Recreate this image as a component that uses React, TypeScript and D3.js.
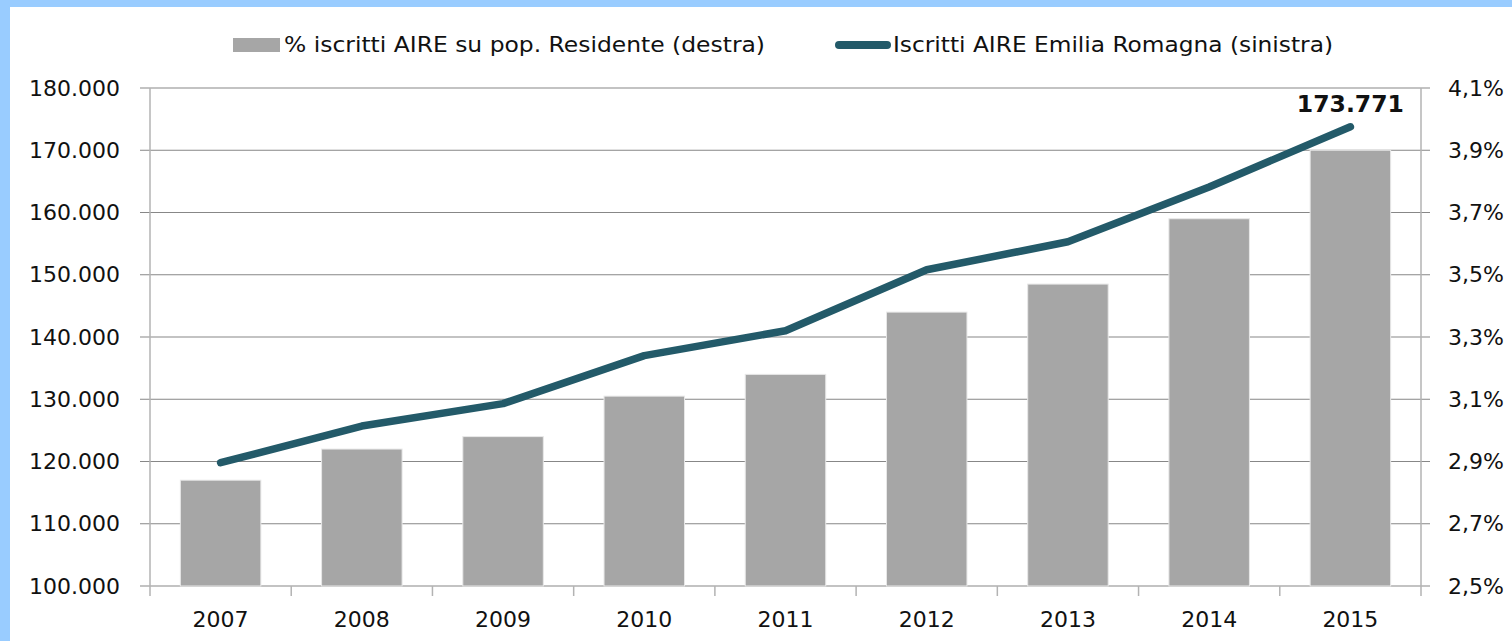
import * as d3 from "d3";
import React from "react";

// Dati
const anni = ["2007", "2008", "2009", "2010", "2011", "2012", "2013", "2014", "2015"];
const percentualeAire = [2.84, 2.94, 2.98, 3.11, 3.18, 3.38, 3.47, 3.68, 3.9];
const iscrittiAire = [119800, 125700, 129300, 137000, 141000, 150800, 155300, 164100, 173771];
const ticksSinistra = [100000, 110000, 120000, 130000, 140000, 150000, 160000, 170000, 180000];
const ticksDestra = [2.5, 2.7, 2.9, 3.1, 3.3, 3.5, 3.7, 3.9, 4.1];

const W = 1512;
const H = 641;
const left = 150;
const right = 1421;
const top = 88;
const bottom = 586;

const font = "'DejaVu Sans', Verdana, sans-serif";
const griglia = "#878787";
const asse = "#b3b3b3";
const grigioBarre = "#a6a6a6";
const bluLinea = "#235a69";

const fmtMigliaia = (v: number) => d3.format(",")(v).replace(/,/g, ".");
const fmtPct = (v: number) => v.toFixed(1).replace(".", ",") + "%";

export default function App() {
  const x = d3.scaleBand<string>().domain(anni).range([left, right]).padding(0);
  const ySx = d3.scaleLinear().domain([100000, 180000]).range([bottom, top]);
  const yDx = d3.scaleLinear().domain([2.5, 4.1]).range([bottom, top]);
  const barW = x.bandwidth() * 0.57;
  const cx = (a: string) => (x(a) as number) + x.bandwidth() / 2;

  const linea = d3
    .line<number>()
    .x((_, i) => cx(anni[i]))
    .y((d) => ySx(d))(iscrittiAire);

  const ultimo = anni.length - 1;

  return (
    <svg
      width={W}
      height={H}
      style={{ position: "absolute", left: 0, top: 0, background: "#fff" }}
      fontFamily={font}
    >
      {/* cornice azzurra */}
      <rect x={0} y={0} width={W} height={7} fill="#99ccff" />
      <rect x={0} y={0} width={10} height={H} fill="#99ccff" />

      {/* griglia orizzontale */}
      {ticksSinistra.map((t) => (
        <line key={t} x1={left - 10} x2={right + 9} y1={ySx(t)} y2={ySx(t)} stroke={griglia} strokeWidth={1} />
      ))}

      {/* assi verticali */}
      <line x1={left} x2={left} y1={top} y2={bottom + 10} stroke={asse} strokeWidth={1.5} />
      <line x1={right} x2={right} y1={top} y2={bottom + 10} stroke={asse} strokeWidth={1.5} />
      {anni.slice(1).map((a) => (
        <line key={a} x1={x(a)} x2={x(a)} y1={bottom} y2={bottom + 10} stroke={asse} strokeWidth={1.5} />
      ))}

      {/* barre */}
      {anni.map((a, i) => (
        <rect
          key={a}
          x={cx(a) - barW / 2}
          y={yDx(percentualeAire[i])}
          width={barW}
          height={bottom - yDx(percentualeAire[i])}
          fill={grigioBarre}
          stroke="#e8e8e8"
          strokeWidth={1}
        />
      ))}

      {/* linea */}
      <path d={linea ?? ""} fill="none" stroke={bluLinea} strokeWidth={7.5} strokeLinecap="round" strokeLinejoin="round" />

      {/* etichetta dato */}
      <text
        x={cx(anni[ultimo])}
        y={ySx(iscrittiAire[ultimo]) - 15}
        textAnchor="middle"
        fontWeight="bold"
        fontSize={23.5}
        fill="#111"
      >
        {fmtMigliaia(iscrittiAire[ultimo])}
      </text>

      {/* etichette asse sinistro */}
      {ticksSinistra.map((t) => (
        <text key={t} x={120} y={ySx(t)} dy="0.35em" textAnchor="end" fontSize={22} fill="#111">
          {fmtMigliaia(t)}
        </text>
      ))}

      {/* etichette asse destro */}
      {ticksDestra.map((t) => (
        <text key={t} x={1448} y={yDx(t)} dy="0.35em" textAnchor="start" fontSize={22} fill="#111">
          {fmtPct(t)}
        </text>
      ))}

      {/* etichette categorie */}
      {anni.map((a) => (
        <text key={a} x={cx(a)} y={627} textAnchor="middle" fontSize={22} fill="#111">
          {a}
        </text>
      ))}

      {/* legenda */}
      <rect x={233} y={38} width={47} height={14} fill={grigioBarre} />
      <text x={284} y={52} fontSize={21} fill="#111" textLength={481} lengthAdjust="spacingAndGlyphs">
        % iscritti AIRE su pop. Residente (destra)
      </text>
      <line x1={839} x2={887} y1={45} y2={45} stroke={bluLinea} strokeWidth={8} strokeLinecap="round" />
      <text x={893} y={52} fontSize={21} fill="#111" textLength={440} lengthAdjust="spacingAndGlyphs">
        Iscritti AIRE Emilia Romagna (sinistra)
      </text>
    </svg>
  );
}
